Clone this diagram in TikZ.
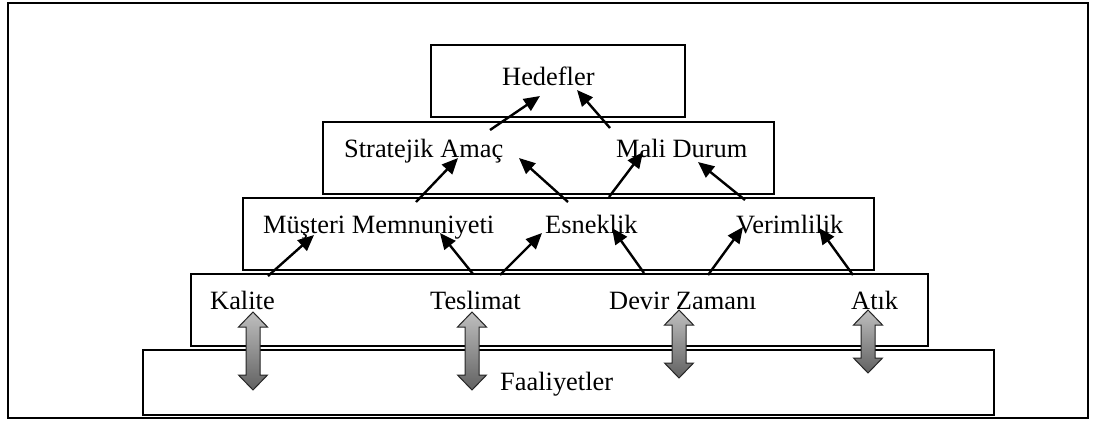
\documentclass[tikz,border=0pt]{standalone}
\usepackage{fontspec}
\setmainfont{Liberation Serif}
\usetikzlibrary{arrows.meta}
\begin{document}
\begin{tikzpicture}[x=1pt,y=-1pt,
  frame/.style={draw=black, line width=1.6pt, inner sep=0pt, anchor=north west},
  box/.style={draw=black, line width=1.6pt, fill=white, inner sep=0pt, anchor=north west},
  lbl/.style={anchor=base west, inner sep=0pt, font=\fontsize{26.4}{30}\selectfont},
  conn/.style={line width=2.4pt, -{Triangle[length=16pt,width=14pt]}},
  dbl/.style={draw=black!85, line width=1pt, top color=black!25, bottom color=black!62}]
\useasboundingbox (0,0) rectangle (1094,421);
% frame and boxes
\node[frame, minimum width=1080pt, minimum height=415pt] (outer) at (7,2) {};
\node[box, minimum width=851pt, minimum height=65pt] (faa) at (142,349) {};
\node[box, minimum width=737pt, minimum height=72pt] (kal) at (190,273) {};
\node[box, minimum width=631pt, minimum height=72pt] (mus) at (242,197) {};
\node[box, minimum width=451pt, minimum height=72pt] (str) at (322,121) {};
\node[box, minimum width=254pt, minimum height=72pt] (hed) at (430,44) {};
% labels
\node[lbl] (tHed) at (502,85) {Hedefler};
\node[lbl] (tStr) at (344,157) {Stratejik Amaç};
\node[lbl] (tMal) at (616,157) {Mali Durum};
\node[lbl] (tMus) at (263,233) {Müşteri Memnuniyeti};
\node[lbl] (tEsn) at (545,233) {Esneklik};
\node[lbl] (tVer) at (736,233) {Verimlilik};
\node[lbl] (tKal) at (210,309) {Kalite};
\node[lbl] (tTes) at (430,309) {Teslimat};
\node[lbl] (tDev) at (609,309) {Devir Zamanı};
\node[lbl] (tAtk) at (851,309) {Atık};
\node[lbl] (tFaa) at (500,390) {Faaliyetler};
% connector end points
\coordinate (a1s) at (490,130); \coordinate (a1e) at (540,96);
\coordinate (a2s) at (416,202); \coordinate (a2e) at (458,158);
\coordinate (a3s) at (568,202); \coordinate (a3e) at (519,158);
\coordinate (a4s) at (610,128); \coordinate (a4e) at (577,90);
\coordinate (a5s) at (609,197); \coordinate (a5e) at (643,152);
\coordinate (a6s) at (745,200); \coordinate (a6e) at (698,162);
\coordinate (a7s) at (268,276); \coordinate (a7e) at (314,235);
\coordinate (a8s) at (473,274); \coordinate (a8e) at (440,233);
\coordinate (a9s) at (500,275); \coordinate (a9e) at (542,233);
\coordinate (a10s) at (644,273); \coordinate (a10e) at (612,228);
\coordinate (a11s) at (708,275); \coordinate (a11e) at (743,227);
\coordinate (a12s) at (853,275); \coordinate (a12e) at (819,228);
\foreach \i in {1,...,12} {\draw[conn] (a\i s) -- (a\i e);}
% double block arrows
\foreach \x/\t/\b in {253/312/390, 472/312/390, 679/310/378, 868/310/373} {
  \path[dbl] (\x,\t) -- (\x+14.5,\t+15) -- (\x+7,\t+15) -- (\x+7,\b-15) -- (\x+14.5,\b-15)
    -- (\x,\b) -- (\x-14.5,\b-15) -- (\x-7,\b-15) -- (\x-7,\t+15) -- (\x-14.5,\t+15) -- cycle;
}
\end{tikzpicture}
\end{document}
